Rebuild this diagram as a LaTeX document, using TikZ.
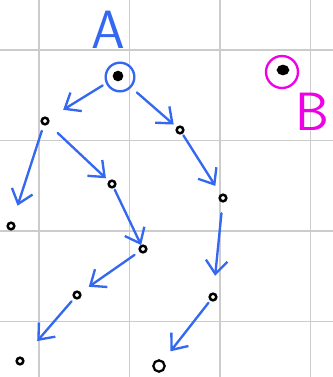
\documentclass[tikz,border=0pt]{standalone}
\usetikzlibrary{arrows.meta,shapes.geometric}

\definecolor{penblue}{RGB}{52,104,240}
\definecolor{penpink}{RGB}{240,0,230}

\begin{document}
\begin{tikzpicture}[
    x=0.3mm, y=-0.3mm,
    gridline/.style={draw=black!20, line width=1.1pt},
    vertex/.style={circle, draw=black, line width=2.1pt, minimum size=2mm, inner sep=0pt, outer sep=0pt},
    bigvertex/.style={vertex, minimum size=3.4mm, line width=1.9pt},
    edge/.style={draw=penblue, line width=2pt, line cap=round, -{Straight Barb[length=4mm, width=6.5mm, line width=2pt]}},
    ring/.style={line width=2pt},
    letter/.style={font=\sffamily\fontsize{46}{46}\selectfont, inner sep=0pt}
]
\useasboundingbox (0,0) rectangle (333,377);

% grid
\foreach \gx in {39,129.5,220,310.5}
    \draw[gridline] (\gx,0) -- (\gx,377);
\foreach \gy in {50,140.5,231,321.5}
    \draw[gridline] (0,\gy) -- (333,\gy);

% tree A
\node[letter, text=penblue] (labA) at (108,30) {A};
\node[vertex, fill=black, minimum size=2.4mm] (root) at (118,76) {};
\draw[ring, penblue] (120,77) circle (4.3mm);

\node[vertex] (l) at (45,121) {};
\node[vertex] (r) at (180,130) {};
\node[vertex] (ll) at (11,226) {};
\node[vertex] (lr) at (112,184) {};
\node[vertex] (rr) at (223,198) {};
\node[vertex] (lrr) at (143,249) {};
\node[vertex] (lrrl) at (77,295) {};
\node[vertex] (lrrll) at (20,361) {};
\node[vertex] (rrr) at (213,297) {};
\node[bigvertex] (rrrl) at (159,366) {};

\draw[edge, shorten <=4.2mm, shorten >=5.4mm] (root) -- (l);
\draw[edge, shorten <=6.3mm, shorten >=1.5mm] (root) -- (r);
\draw[edge, shorten <=2.1mm, shorten >=5.4mm] (l) -- (ll);
\draw[edge, shorten <=4.2mm, shorten >=1.5mm] (l) -- (lr);
\draw[edge, shorten <=0.9mm, shorten >=3.3mm] (r) -- (rr);
\draw[edge, shorten <=0.9mm, shorten >=0.3mm] (lr) -- (lrr);
\draw[edge, shorten <=2.1mm, shorten >=3.3mm] (lrr) -- (lrrl);
\draw[edge, shorten <=1.5mm, shorten >=6.9mm] (lrrl) -- (lrrll);
\draw[edge, shorten <=3.6mm, shorten >=5.4mm] (rr) -- (rrr);
\draw[edge, shorten <=1.2mm, shorten >=3.9mm] (rrr) -- (rrrl);

% point B
\node[ellipse, draw=black, fill=black, line width=1.6pt, minimum width=3.2mm, minimum height=2.6mm, inner sep=0pt] (b) at (283,70) {};
\draw[ring, penpink] (282,72) circle (4.8mm);
\node[letter, text=penpink] (labB) at (312,112) {B};

\end{tikzpicture}
\end{document}
